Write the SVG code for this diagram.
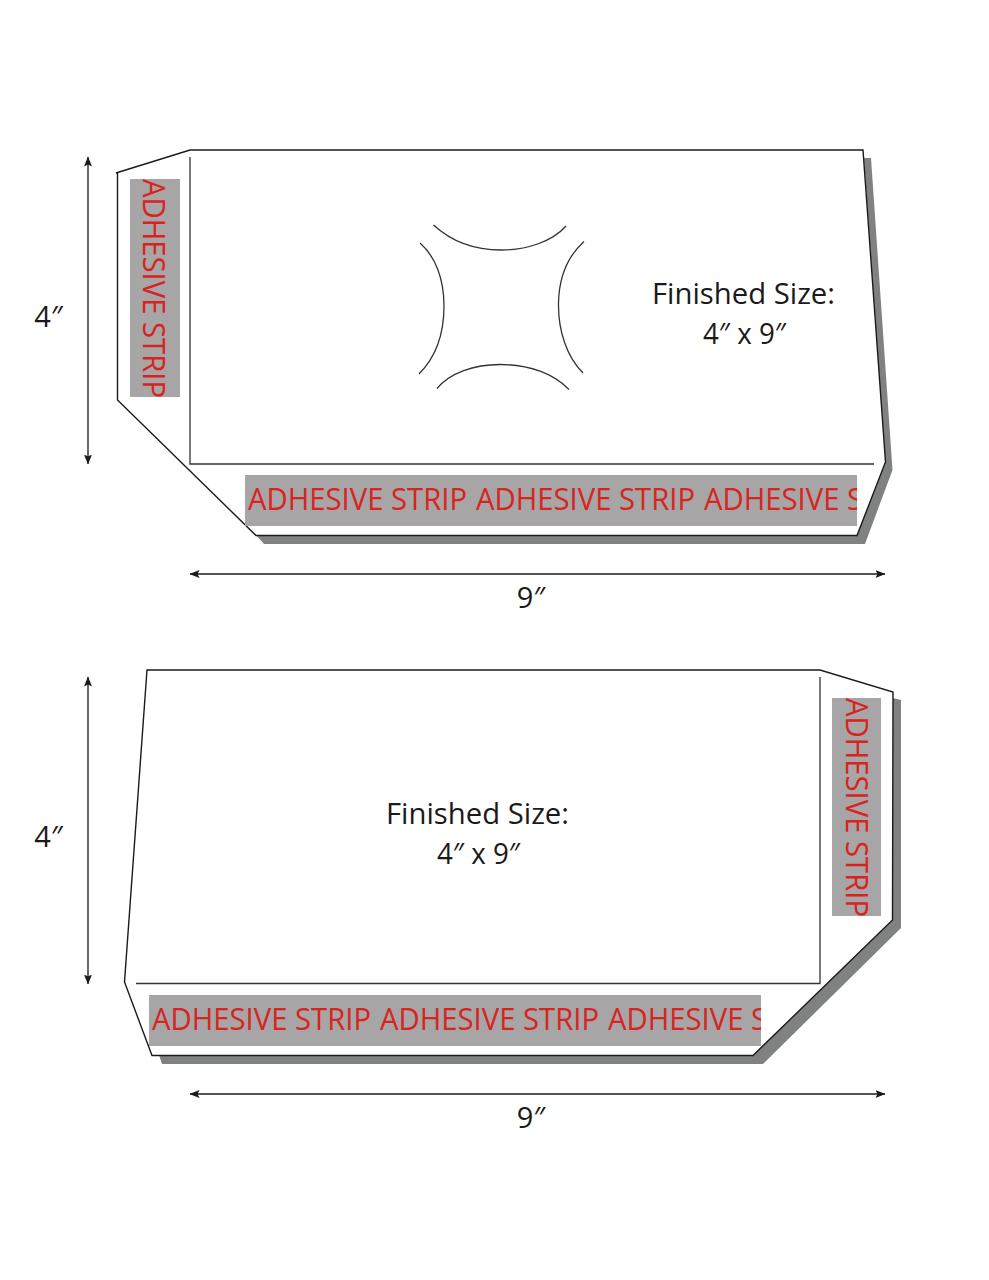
<svg xmlns="http://www.w3.org/2000/svg" width="989" height="1280" viewBox="0 0 989 1280">
<style>
.shadow{fill:#808282;stroke:none}
.outline{fill:#fff;stroke:#1a1a1a;stroke-width:1.4;stroke-linejoin:miter}
.line{fill:none;stroke:#333;stroke-width:1.3}
.strip{fill:#a7a5a5}
.adh{font-family:"Open Sans","Noto Sans",sans-serif;font-size:31px;fill:#d8231f}
.lbl{font-family:"Open Sans","Noto Sans",sans-serif;font-size:29px;fill:#1a1a1a;text-anchor:middle}
.dim{fill:none;stroke:#1a1a1a;stroke-width:1.3;marker-start:url(#ah);marker-end:url(#ah)}
</style>
<defs>
<marker id="ah" viewBox="0 0 10 8" refX="9.5" refY="4" markerUnits="userSpaceOnUse" markerWidth="10" markerHeight="9" orient="auto-start-reverse"><path d="M0 0L10 4L0 8L2 4Z" fill="#1a1a1a"/></marker>
<clipPath id="c1"><rect x="130" y="179" width="50" height="218"/></clipPath>
<clipPath id="c2"><rect x="245" y="475" width="612" height="51"/></clipPath>
<clipPath id="c3"><rect x="832" y="698" width="49" height="218"/></clipPath>
<clipPath id="c4"><rect x="149" y="995" width="612" height="51"/></clipPath>
</defs>
<g id="envelope-top">
<polygon class="shadow" points="864,158 871,158 892.5,470 865,544 264,544 256,535 857,535 885,462"/>
<polygon class="outline" points="116,173 190,150 863,150 885.5,462 857,535.5 256,535.5 117.5,400 117.5,173"/>
<path class="line" d="M190 157V464H874"/>
<g id="strip-top-side"><rect class="strip" x="130" y="179" width="50" height="218"/><g clip-path="url(#c1)"><text class="adh" transform="translate(143,179) rotate(90)" textLength="219" lengthAdjust="spacingAndGlyphs">ADHESIVE STRIP</text></g></g>
<g id="strip-top-bottom"><rect class="strip" x="245" y="475" width="612" height="51"/><g clip-path="url(#c2)"><text class="adh" x="248" y="510" textLength="219" lengthAdjust="spacingAndGlyphs">ADHESIVE STRIP</text><text class="adh" x="476" y="510" textLength="219" lengthAdjust="spacingAndGlyphs">ADHESIVE STRIP</text><text class="adh" x="704" y="510" textLength="159" lengthAdjust="spacingAndGlyphs">ADHESIVE S</text></g></g>
<g id="crop-marks"><path class="line" d="M433.5 225C452 242 476 250 501 250C526 250 552 242 566 226"/><path class="line" d="M420 243C436 257 444 280 444 306C444 335 436 357 419 374"/><path class="line" d="M584 241.5C568 256 559 277 558.500 303C558 331 567 357 583 373"/><path class="line" d="M437 388.500C450 373 474 364.500 500 364.500C530 364.500 554 374 569 389.500"/></g>
<text class="lbl" x="743.500" y="303.500" textLength="183" lengthAdjust="spacingAndGlyphs">Finished Size:</text>
<text class="lbl" x="744.500" y="344" textLength="83" lengthAdjust="spacingAndGlyphs">4″ x 9″</text>
</g>
<g id="envelope-bottom">
<polygon class="shadow" points="893,698 901,700 901,928 763,1064 162,1064 159,1055 753,1055 892,920"/>
<polygon class="outline" points="147,670 820,670 893,692 892.500,920 753,1055.500 152,1055.500 124.500,982"/>
<path class="line" d="M820 677V983.500H136"/>
<g id="strip-bottom-side"><rect class="strip" x="832" y="698" width="49" height="218"/><g clip-path="url(#c3)"><text class="adh" transform="translate(846,698) rotate(90)" textLength="219" lengthAdjust="spacingAndGlyphs">ADHESIVE STRIP</text></g></g>
<g id="strip-bottom-bottom"><rect class="strip" x="149" y="995" width="612" height="51"/><g clip-path="url(#c4)"><text class="adh" x="152" y="1030" textLength="219" lengthAdjust="spacingAndGlyphs">ADHESIVE STRIP</text><text class="adh" x="380" y="1030" textLength="219" lengthAdjust="spacingAndGlyphs">ADHESIVE STRIP</text><text class="adh" x="608" y="1030" textLength="159" lengthAdjust="spacingAndGlyphs">ADHESIVE S</text></g></g>
<text class="lbl" x="477.500" y="823.500" textLength="183" lengthAdjust="spacingAndGlyphs">Finished Size:</text>
<text class="lbl" x="478.500" y="864" textLength="83" lengthAdjust="spacingAndGlyphs">4″ x 9″</text>
</g>
<g id="connectors">
<path class="dim" d="M88 157V464"/>
<path class="dim" d="M190 574H885"/>
<path class="dim" d="M88 677V984"/>
<path class="dim" d="M190 1094H885"/>
</g>
<text class="lbl" x="48.500" y="327">4″</text>
<text class="lbl" x="531" y="608">9″</text>
<text class="lbl" x="48.500" y="847">4″</text>
<text class="lbl" x="531" y="1128">9″</text>
</svg>
